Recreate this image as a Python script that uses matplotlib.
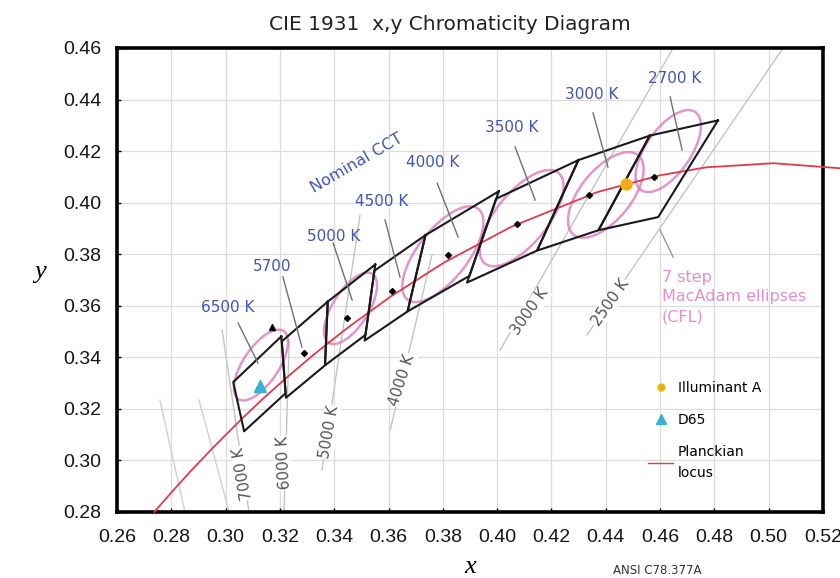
import matplotlib.pyplot as plt
from matplotlib.patches import Ellipse
from matplotlib.lines import Line2D

# ANSI C78.377 nominal CCT quadrangles
cct_labels = ["2700 K", "3000 K", "3500 K", "4000 K", "4500 K", "5000 K", "5700", "6500 K"]
center_x = [0.4578, 0.4338, 0.4073, 0.3818, 0.3611, 0.3447, 0.3287, 0.3123]
center_y = [0.4101, 0.4030, 0.3917, 0.3797, 0.3658, 0.3553, 0.3417, 0.3282]
quad_x = [
    [0.4813, 0.4562, 0.4373, 0.4593],
    [0.4562, 0.4299, 0.4147, 0.4373],
    [0.4299, 0.3996, 0.3889, 0.4147],
    [0.4006, 0.3736, 0.3670, 0.3898],
    [0.3736, 0.3548, 0.3512, 0.3670],
    [0.3551, 0.3376, 0.3366, 0.3515],
    [0.3376, 0.3207, 0.3222, 0.3366],
    [0.3205, 0.3028, 0.3068, 0.3221],
]
quad_y = [
    [0.4319, 0.4260, 0.3893, 0.3944],
    [0.4260, 0.4165, 0.3814, 0.3893],
    [0.4165, 0.4015, 0.3690, 0.3814],
    [0.4044, 0.3874, 0.3578, 0.3716],
    [0.3874, 0.3736, 0.3465, 0.3578],
    [0.3760, 0.3616, 0.3369, 0.3487],
    [0.3616, 0.3462, 0.3243, 0.3369],
    [0.3481, 0.3304, 0.3113, 0.3261],
]

# where the blue CCT names sit, and their leader lines
label_x = [0.4655, 0.4350, 0.4055, 0.3764, 0.3576, 0.3399, 0.3171, 0.3009]
label_y = [0.4480, 0.4418, 0.4293, 0.4154, 0.4006, 0.3867, 0.3754, 0.3595]
leader_x = [(0.4637, 0.4681), (0.4353, 0.4408), (0.4066, 0.4140), (0.3779, 0.3856),
            (0.3587, 0.3642), (0.3396, 0.3466), (0.3211, 0.3281), (0.3046, 0.3119)]
leader_y = [(0.4410, 0.4204), (0.4348, 0.4138), (0.4216, 0.4010), (0.4076, 0.3867),
            (0.3933, 0.3712), (0.3843, 0.3622), (0.3712, 0.3440), (0.3533, 0.3378)]

# Planckian locus
planck_x = [0.2737, 0.2807, 0.2869, 0.2952, 0.3064, 0.3135, 0.3221, 0.3325, 0.3451,
            0.3608, 0.3805, 0.4053, 0.4369, 0.4599, 0.4770, 0.5018, 0.5267]
planck_y = [0.2800, 0.2884, 0.2956, 0.3048, 0.3166, 0.3237, 0.3318, 0.3411, 0.3516,
            0.3636, 0.3768, 0.3907, 0.4041, 0.4106, 0.4137, 0.4153, 0.4133]

# 7-step MacAdam ellipses for CFL (centre, semi-axes, tilt in degrees)
ell_x = [0.463, 0.440, 0.409, 0.380, 0.346, 0.313]
ell_y = [0.420, 0.403, 0.394, 0.380, 0.359, 0.337]
ell_a = [0.01813, 0.01946, 0.02219, 0.02191, 0.01561, 0.01561]
ell_b = [0.00833, 0.00952, 0.00973, 0.00938, 0.00665, 0.00665]
ell_theta = [57.28, 53.22, 52.99, 54.00, 59.62, 58.23]

# isotemperature lines
iso_labels = ["7000 K", "6000 K", "5000 K", "4000 K", "3000 K", "2500 K"]
iso_x = [(0.3086, 0.2987), (0.3215, 0.3234), (0.3355, 0.3495), (0.3606, 0.3760),
         (0.4011, 0.4648), (0.4331, 0.5053)]
iso_y = [(0.2800, 0.3506), (0.2800, 0.3467), (0.2963, 0.3952), (0.3118, 0.3797),
         (0.3428, 0.4600), (0.3487, 0.4600)]
iso_lab_x = [0.3064, 0.3215, 0.3381, 0.3650, 0.4121, 0.4416]
iso_lab_y = [0.2951, 0.2990, 0.3110, 0.3312, 0.3576, 0.3611]
iso_rot = [100, 93, 80, 72, 55, 55]
extra_iso_x = [(0.2758, 0.2850), (0.2902, 0.3013)]
extra_iso_y = [(0.3234, 0.2800), (0.3234, 0.2800)]

illA_x, illA_y = 0.4476, 0.4074
d65_x, d65_y = 0.3127, 0.3290

blue = "#4455b0"
pink = "#d874b8"

fig = plt.figure(figsize=(8.4, 5.78), dpi=100)
ax = fig.add_axes([0.1393, 0.1142, 0.8405, 0.8028])

ax.set_xlim(0.26, 0.52)
ax.set_ylim(0.28, 0.46)
ax.set_xticks([0.26 + 0.02 * i for i in range(14)])
ax.set_yticks([0.28 + 0.02 * i for i in range(10)])
ax.set_xticklabels([f"{0.26 + 0.02 * i:.2f}" for i in range(14)])
ax.set_yticklabels([f"{0.28 + 0.02 * i:.2f}" for i in range(10)])
ax.grid(True, color="#dcdcdc", lw=0.9)
ax.set_axisbelow(True)
ax.tick_params(direction="in", length=3, width=1, labelsize=14,
               labelcolor="#151515", labelfontfamily="Liberation Sans")
ax.tick_params(axis="x", pad=12)
ax.tick_params(axis="y", pad=11)
for s in ax.spines.values():
    s.set_linewidth(2.6)

# isotherms
for xs, ys in zip(extra_iso_x, extra_iso_y):
    ax.plot(xs, ys, color="#d0d0d0", lw=1, zorder=1)
for xs, ys, lab, lx, ly, rot in zip(iso_x, iso_y, iso_labels, iso_lab_x, iso_lab_y, iso_rot):
    ax.plot(xs, ys, color="#c4c4c4", lw=1, zorder=1)
    ax.text(lx, ly, lab, rotation=rot, ha="center", va="center", fontsize=11,
            color="#555555", zorder=2,
            bbox=dict(boxstyle="square,pad=0.05", fc="white", ec="none"))

# ellipses
for ex, ey, ea, eb, th in zip(ell_x, ell_y, ell_a, ell_b, ell_theta):
    ax.add_patch(Ellipse((ex, ey), 2 * ea, 2 * eb, angle=th, fill=False,
                         ec=pink, lw=1.8, alpha=0.75, zorder=3))

# Planckian locus
ax.plot(planck_x, planck_y, color="#e23a4a", lw=1.3, zorder=4, clip_on=False)

# quadrangles
for qx, qy in zip(quad_x, quad_y):
    ax.plot(qx + qx[:1], qy + qy[:1], color="#1a1a1a", lw=1.5, zorder=5)
ax.plot(center_x, center_y, "D", color="black", ms=3, zorder=6)
ax.plot([0.3171], [0.3516], "^", color="black", ms=5, zorder=6)

# nominal CCT labels
for lab, lx, ly, ldx, ldy in zip(cct_labels, label_x, label_y, leader_x, leader_y):
    ax.plot(ldx, ldy, color="#707070", lw=1, zorder=6)
    ax.text(lx, ly, lab, ha="center", va="center", fontsize=11, color=blue, zorder=7)
ax.text(0.3484, 0.4154, "Nominal CCT", rotation=30, ha="center", va="center",
        fontsize=11.5, color=blue, zorder=7)

# MacAdam note
ax.plot([0.4600, 0.4648], [0.3894, 0.3789], color="#b08aa8", lw=1, zorder=6)
ax.text(0.4607, 0.3740, "7 step\nMacAdam ellipses\n(CFL)", ha="left", va="top",
        fontsize=11.5, color="#e28fcc", linespacing=1.4, zorder=7)

# reference points
ax.plot(illA_x, illA_y, "o", color="#f5a623", mec="#e8c000", ms=8, zorder=8)
ax.plot(d65_x, d65_y, "^", color="#3ab0d4", ms=8, zorder=8)

handles = [
    Line2D([], [], marker="o", ls="none", color="#f5a623", mec="#e8c000", ms=5),
    Line2D([], [], marker="^", ls="none", color="#3ab0d4", ms=7),
    Line2D([], [], color="#e23a4a", lw=1),
]
leg = ax.legend(handles, ["Illuminant A", "D65", "Planckian\nlocus"], loc="upper left",
                bbox_to_anchor=(0.735, 0.31), frameon=False, fontsize=10,
                handlelength=1.8, handletextpad=0.3, labelspacing=1.3)
leg.get_texts()[2].set_linespacing(1.7)

fig.text(450 / 840, 1 - 25 / 578, "CIE 1931  x,y Chromaticity Diagram",
         ha="center", va="center", fontsize=14.5, color="#222222")
fig.text(470 / 840, 1 - 567 / 578, "x", ha="center", va="center", fontsize=19,
         style="italic", family="Liberation Serif")
fig.text(40 / 840, 1 - 272 / 578, "y", ha="center", va="center", fontsize=19,
         style="italic", family="Liberation Serif")
fig.text(657 / 840, 1 - 570 / 578, "ANSI C78.377A", ha="center", va="center",
         fontsize=8.5, color="#333333")

fig.savefig("out.png", dpi=100)
